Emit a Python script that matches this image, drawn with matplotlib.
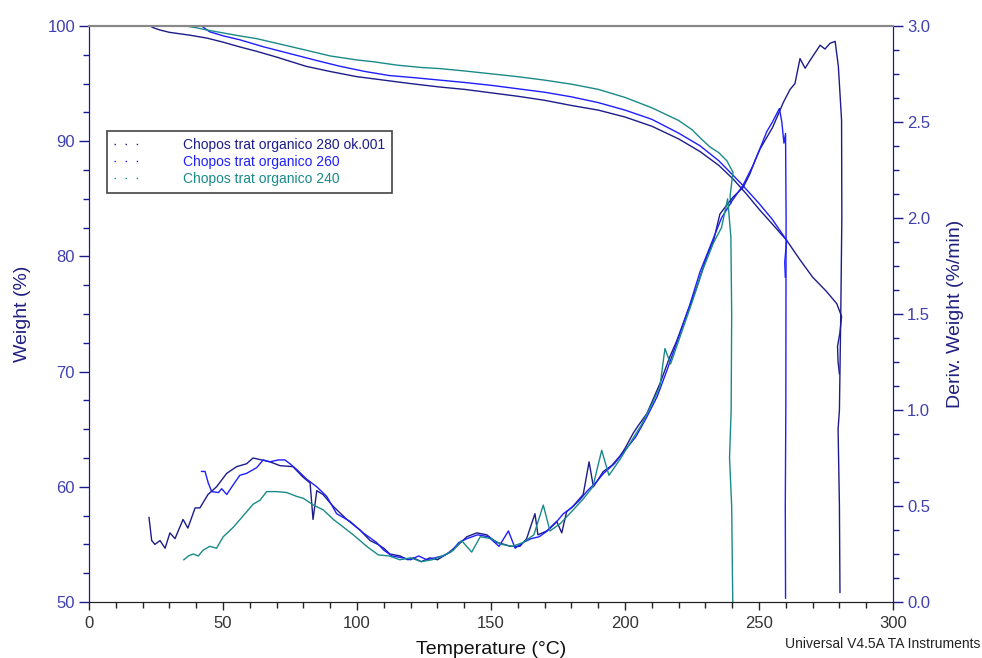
import matplotlib
matplotlib.use('Agg')
import matplotlib.pyplot as plt
from matplotlib.lines import Line2D
from matplotlib.ticker import MultipleLocator

plt.rcParams['font.family'] = ['Liberation Sans', 'DejaVu Sans']

# series names and colours
labels = ['Chopos trat organico 280 ok.001', 'Chopos trat organico 260', 'Chopos trat organico 240']
colors = ['#1c1c8a', '#1e1eff', '#1a8a88']

# weight (%) vs temperature, run to 280
t_w280 = [22.8, 24, 26.5, 30, 37.7, 44, 50, 56, 62.6, 70, 81, 90, 100, 110, 120, 131, 140, 150, 160, 170,
          180, 190, 200, 210, 220, 228, 235, 240.4, 245, 250, 255, 260.3, 265.3, 270, 275, 279, 280.8,
          280.2, 279.3, 279.5, 280]
w280 = [100, 99.85, 99.65, 99.45, 99.2, 98.95, 98.6, 98.2, 97.8, 97.3, 96.5, 96.05, 95.6, 95.3, 95.0, 94.7,
        94.5, 94.2, 93.9, 93.55, 93.1, 92.7, 92.1, 91.3, 90.2, 89.1, 87.9, 86.7, 85.5, 84.1, 82.8, 81.4,
        79.7, 78.2, 77.0, 75.9, 74.8, 73.4, 72.2, 70.8, 69.8]

# weight, run to 260
t_w260 = [42, 45, 50, 56.3, 65, 75, 85, 93.7, 103, 112, 122, 131, 140, 150, 160, 170, 180, 190, 200, 210,
          220, 228, 235, 243, 250, 255, 260.3, 260, 259.6, 259.8]
w260 = [100, 99.5, 99.15, 98.8, 98.2, 97.6, 97.0, 96.5, 96.05, 95.7, 95.5, 95.3, 95.1, 94.85, 94.55, 94.25,
        93.85, 93.35, 92.7, 91.9, 90.7, 89.6, 88.3, 86.4, 84.6, 83.2, 81.4, 80.6, 79.5, 78.2]

# weight, run to 240
t_w240 = [36, 40, 44, 50, 56, 62.6, 70, 81, 90, 100, 106, 115, 124, 131, 140, 150, 160, 170, 180, 190,
          200, 210, 220, 225, 228, 231.7, 235, 238, 240.3, 239.8, 239.2, 239.5]
w240 = [100, 99.85, 99.65, 99.4, 99.15, 98.9, 98.5, 97.9, 97.4, 97.05, 96.9, 96.6, 96.4, 96.3, 96.1, 95.85,
        95.6, 95.3, 94.95, 94.5, 93.8, 92.9, 91.8, 91.0, 90.3, 89.5, 89.0, 88.3, 87.3, 86.4, 85.2, 84.6]

# derivative weight (%/min), run to 280
t_d280 = [22.4, 23.4, 24.6, 26.5, 28.4, 30.2, 32.1, 35.1, 36.9, 39.6, 41.4, 44.4, 47.6, 51.4, 55.1, 58.8,
          61.2, 64.4, 67.5, 71.3, 76.1, 79.9, 82.5, 83.6, 85.0, 87.3, 91.0, 96.2, 101.1, 104.9, 107.8,
          110, 112.3, 116, 119, 121, 124, 127.2, 130, 133.5, 137.2, 141, 144.7, 148.4, 152.1, 155, 157.1,
          160.8, 163.3, 166.4, 167.5, 170.8, 174.5, 176.4, 178.2, 180.7, 184.4, 186.6, 188.2, 191.9, 195,
          198.1, 200, 203.1, 205, 208.1, 210, 213.1, 216.8, 219.3, 223, 226.8, 230.5, 233, 235.4, 237,
          240.4, 244.1, 246.6, 248.5, 250.4, 252.9, 255, 257.8, 259, 261.6, 263.4, 265.3, 267.2, 269,
          270.9, 272.8, 274.6, 276.5, 278.4, 279.6, 280.8, 280.9, 280.5, 280, 279.5, 280, 280.2]
d280 = [0.44, 0.32, 0.30, 0.32, 0.28, 0.36, 0.33, 0.43, 0.385, 0.49, 0.49, 0.56, 0.60, 0.67, 0.705, 0.72,
        0.75, 0.74, 0.73, 0.71, 0.705, 0.65, 0.62, 0.43, 0.58, 0.56, 0.50, 0.43, 0.375, 0.32, 0.30,
        0.28, 0.25, 0.24, 0.22, 0.23, 0.21, 0.23, 0.22, 0.25, 0.29, 0.34, 0.36, 0.35, 0.31, 0.30, 0.29,
        0.29, 0.33, 0.46, 0.35, 0.37, 0.42, 0.36, 0.47, 0.50, 0.56, 0.73, 0.60, 0.68, 0.71,
        0.76, 0.80, 0.88, 0.92, 0.98, 1.04, 1.14, 1.28, 1.36, 1.50, 1.64, 1.80, 1.88, 2.02, 2.05,
        2.11, 2.16, 2.23, 2.30, 2.36, 2.42, 2.47, 2.56, 2.60, 2.67, 2.70, 2.83, 2.78, 2.82,
        2.86, 2.90, 2.88, 2.91, 2.92, 2.79, 2.51, 2.0, 1.5, 1.0, 0.9, 0.5, 0.05]

# derivative weight, run to 260
t_d260 = [42, 43.3, 44.5, 45.8, 48.3, 49.5, 51.4, 53.8, 56.3, 58.8, 62.6, 65, 67.5, 70.6, 73.1, 75, 77.5,
          81.2, 85, 88.7, 92.4, 97.4, 102.3, 107.3, 110, 113, 117, 120, 123, 126, 129, 132, 135, 138, 141,
          145, 149, 153, 156.5, 159, 162, 165, 168, 171, 174, 177, 180, 183, 186, 189, 192, 196, 200, 204,
          208, 212, 216, 220, 224, 228, 232, 236, 240, 244, 248, 252.9, 255, 257.6, 258.5, 259.3, 259.9,
          260.1, 260, 259.8, 259.9]
d260 = [0.68, 0.68, 0.62, 0.575, 0.57, 0.59, 0.56, 0.61, 0.66, 0.67, 0.70, 0.74, 0.73, 0.74, 0.74, 0.72,
        0.69, 0.64, 0.60, 0.55, 0.46, 0.42, 0.36, 0.31, 0.27, 0.24, 0.23, 0.22, 0.24, 0.22, 0.23, 0.24,
        0.26, 0.31, 0.33, 0.35, 0.34, 0.29, 0.37, 0.28, 0.31, 0.33, 0.34, 0.37, 0.41, 0.46, 0.49, 0.53,
        0.58, 0.62, 0.67, 0.72, 0.79, 0.86, 0.96, 1.07, 1.22, 1.38, 1.54, 1.72, 1.86, 2.00, 2.09, 2.17,
        2.28, 2.45, 2.50, 2.57, 2.50, 2.39, 2.44, 2.0, 1.0, 0.5, 0.02]

# derivative weight, run to 240
t_d240 = [35.4, 37.1, 38.9, 40.8, 42.6, 45.1, 47.6, 50.1, 53.9, 57.6, 61.3, 63.8, 66.3, 70, 73.8, 77.5, 80,
          83.7, 87.4, 91.2, 94.9, 98.6, 103.6, 108, 112, 116, 120, 124, 128, 132, 136, 139, 142.8, 146,
          150, 154, 158, 162, 166, 169.5, 172, 176, 180, 184, 188, 191.3, 194, 198, 202, 206, 210, 213,
          214.9, 217, 221, 225, 229, 233, 236, 238.3, 239.5, 239.8, 239.6, 239.0, 239.8, 240.2]
d240 = [0.22, 0.24, 0.25, 0.24, 0.27, 0.29, 0.28, 0.34, 0.39, 0.45, 0.51, 0.53, 0.575, 0.575, 0.57, 0.55,
        0.54, 0.505, 0.48, 0.43, 0.39, 0.35, 0.29, 0.245, 0.24, 0.22, 0.23, 0.21, 0.22, 0.24, 0.27, 0.32,
        0.26, 0.34, 0.33, 0.30, 0.29, 0.31, 0.35, 0.505, 0.37, 0.41, 0.47, 0.53, 0.60, 0.79, 0.66, 0.74,
        0.83, 0.92, 1.03, 1.12, 1.32, 1.24, 1.40, 1.56, 1.73, 1.87, 1.95, 2.10, 1.9, 1.5, 1.0, 0.75, 0.5,
        0.0]

weights = [(t_w280, w280), (t_w260, w260), (t_w240, w240)]
derivs = [(t_d280, d280), (t_d260, d260), (t_d240, d240)]

axis_blue = '#1a1a8c'
label_blue = '#4040b0'

fig = plt.figure(figsize=(9.82, 6.58), dpi=100)
ax = fig.add_axes([0.0906, 0.0851, 0.8188, 0.8754])
ax2 = ax.twinx()

for (t, w), c in zip(weights, colors):
    ax.plot(t, w, color=c, lw=1.0)
for (t, d), c in zip(derivs, colors):
    ax2.plot(t, d, color=c, lw=1.0)

ax.set_xlim(0, 300)
ax.set_ylim(50, 100)
ax2.set_ylim(0, 3.0)

ax.xaxis.set_major_locator(MultipleLocator(50))
ax.xaxis.set_minor_locator(MultipleLocator(10))
ax.yaxis.set_major_locator(MultipleLocator(10))
ax.yaxis.set_minor_locator(MultipleLocator(2.5))
ax2.yaxis.set_major_locator(MultipleLocator(0.5))
ax2.yaxis.set_minor_locator(MultipleLocator(0.125))
ax2.yaxis.set_major_formatter(matplotlib.ticker.FormatStrFormatter('%.1f'))

for a in (ax, ax2):
    a.spines['top'].set_color('#888888')
    a.spines['top'].set_linewidth(1.5)
    a.spines['bottom'].set_color('#222222')
    a.spines['left'].set_color(axis_blue)
    a.spines['right'].set_color(axis_blue)

ax.tick_params(axis='x', which='major', length=6, width=1, colors='#222222', labelsize=12,
               labelcolor='#333333', pad=4)
ax.tick_params(axis='x', which='minor', length=4, width=1, colors='#222222')
ax.tick_params(axis='y', which='major', length=7, width=1, colors=axis_blue, labelsize=12,
               labelcolor=label_blue, pad=3)
ax.tick_params(axis='y', which='minor', length=4, width=1, colors=axis_blue)
ax2.tick_params(axis='y', which='major', length=7, width=1, colors=axis_blue, labelsize=12,
                labelcolor=label_blue, pad=3)
ax2.tick_params(axis='y', which='minor', length=4, width=1, colors=axis_blue)

ax.set_xlabel('Temperature (°C)', fontsize=14, color='#111111', labelpad=7)
ax.set_ylabel('Weight (%)', fontsize=14, color='#202080', labelpad=12)
ax2.set_ylabel('Deriv. Weight (%/min)', fontsize=14, color='#202080', labelpad=12)

handles = [Line2D([], [], color=c, lw=1, linestyle=(0, (1, 7))) for c in colors]
leg = ax.legend(handles, labels, loc='upper left', bbox_to_anchor=(0.022, 0.818), fontsize=10,
                handlelength=2.2, handletextpad=2.8, labelspacing=0.22, borderpad=0.5,
                fancybox=False, framealpha=1, edgecolor='#444444', labelcolor='linecolor',
                borderaxespad=0)
leg.get_frame().set_linewidth(1.2)

fig.text(0.998, 0.022, 'Universal V4.5A TA Instruments', ha='right', va='center', fontsize=10,
         color='#222222')

fig.savefig('out.png', dpi=100)
